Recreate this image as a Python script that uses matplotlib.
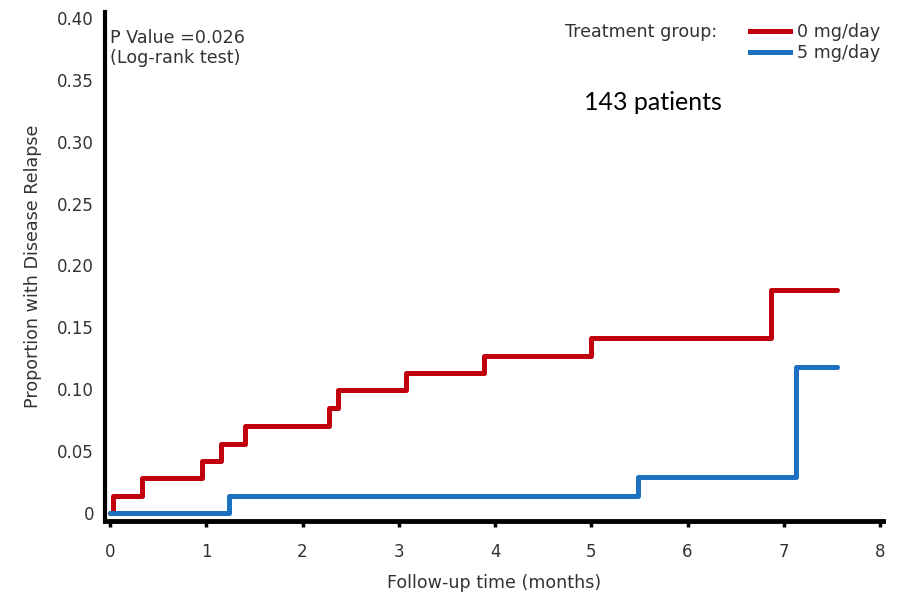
# Kaplan-Meier style cumulative relapse curves

import matplotlib.pyplot as plt
from matplotlib.lines import Line2D

# 0 mg/day group: event times (months) and cumulative proportion
t_0mg = [0, 0.03, 0.33, 0.96, 1.15, 1.40, 2.27, 2.37, 3.08, 3.88, 5.00, 6.87, 7.55]
p_0mg = [0, 0.014, 0.028, 0.042, 0.056, 0.070, 0.085, 0.099, 0.113, 0.127, 0.141, 0.180, 0.180]

# 5 mg/day group
t_5mg = [0, 1.24, 5.49, 7.13, 7.55]
p_5mg = [0, 0.014, 0.029, 0.118, 0.118]

xticks = [0, 1, 2, 3, 4, 5, 6, 7, 8]
yticks = [0, 0.05, 0.10, 0.15, 0.20, 0.25, 0.30, 0.35, 0.40]
ytick_labels = ["0", "0.05", "0.10", "0.15", "0.20", "0.25", "0.30", "0.35", "0.40"]

red = "#c0000c"
blue = "#1b70c0"
txt = '#333333'

plt.rcParams['font.family'] = ['DejaVu Sans']


def makeFig():
    fig = plt.figure(figsize=(8.99, 5.98), dpi=100)
    ax = fig.add_axes([0.1168, 0.1288, 0.8654, 0.851])

    ax.step(t_0mg, p_0mg, where='post', color=red, linewidth=3.6, solid_capstyle='round')
    ax.step(t_5mg, p_5mg, where='post', color=blue, linewidth=3.6, solid_capstyle='round')

    ax.set_xlim(-0.052, 8.03)
    ax.set_ylim(-0.0065, 0.4047)
    ax.set_xticks(xticks)
    ax.set_yticks(yticks)
    ax.set_yticklabels(ytick_labels)

    for s in ['top', 'right']:
        ax.spines[s].set_visible(False)
    ax.spines['left'].set_linewidth(3)
    ax.spines['bottom'].set_linewidth(3.5)
    ax.tick_params(axis='y', length=0, pad=8, labelsize=12, labelcolor=txt)
    ax.tick_params(axis='x', length=4, width=2.5, pad=12, labelsize=12, labelcolor=txt)

    ax.set_xlabel("Follow-up time (months)", fontsize=12.6, color=txt, labelpad=9)
    ax.set_ylabel("Proportion with Disease Relapse", fontsize=12.6, color=txt, labelpad=11)

    # p-value annotation
    ax.text(0.0, 0.391, "P Value =0.026\n(Log-rank test)", fontsize=12.6, color=txt,
            va='top', ha='left', linespacing=1.15)

    handles = [Line2D([], [], color=red, linewidth=3.6),
               Line2D([], [], color=blue, linewidth=3.6)]
    fig.legend(handles, ["0 mg/day", "5 mg/day"], loc='upper left',
               bbox_to_anchor=(750 / 899, 1 - 23 / 598), frameon=False, fontsize=12.6,
               handlelength=2.3, handletextpad=0.4, labelspacing=0.2,
               borderpad=0, borderaxespad=0, labelcolor=txt)
    fig.text(565 / 899, 1 - 32 / 598, "Treatment group:", fontsize=12.6, color=txt,
             va='center', ha='left')

    fig.text(653 / 899, 1 - 103 / 598, "143 patients", fontsize=18, color='black',
             va='center', ha='center', family='Lato')

    fig.savefig("out.png", dpi=100)


if __name__ == '__main__':
    makeFig()
